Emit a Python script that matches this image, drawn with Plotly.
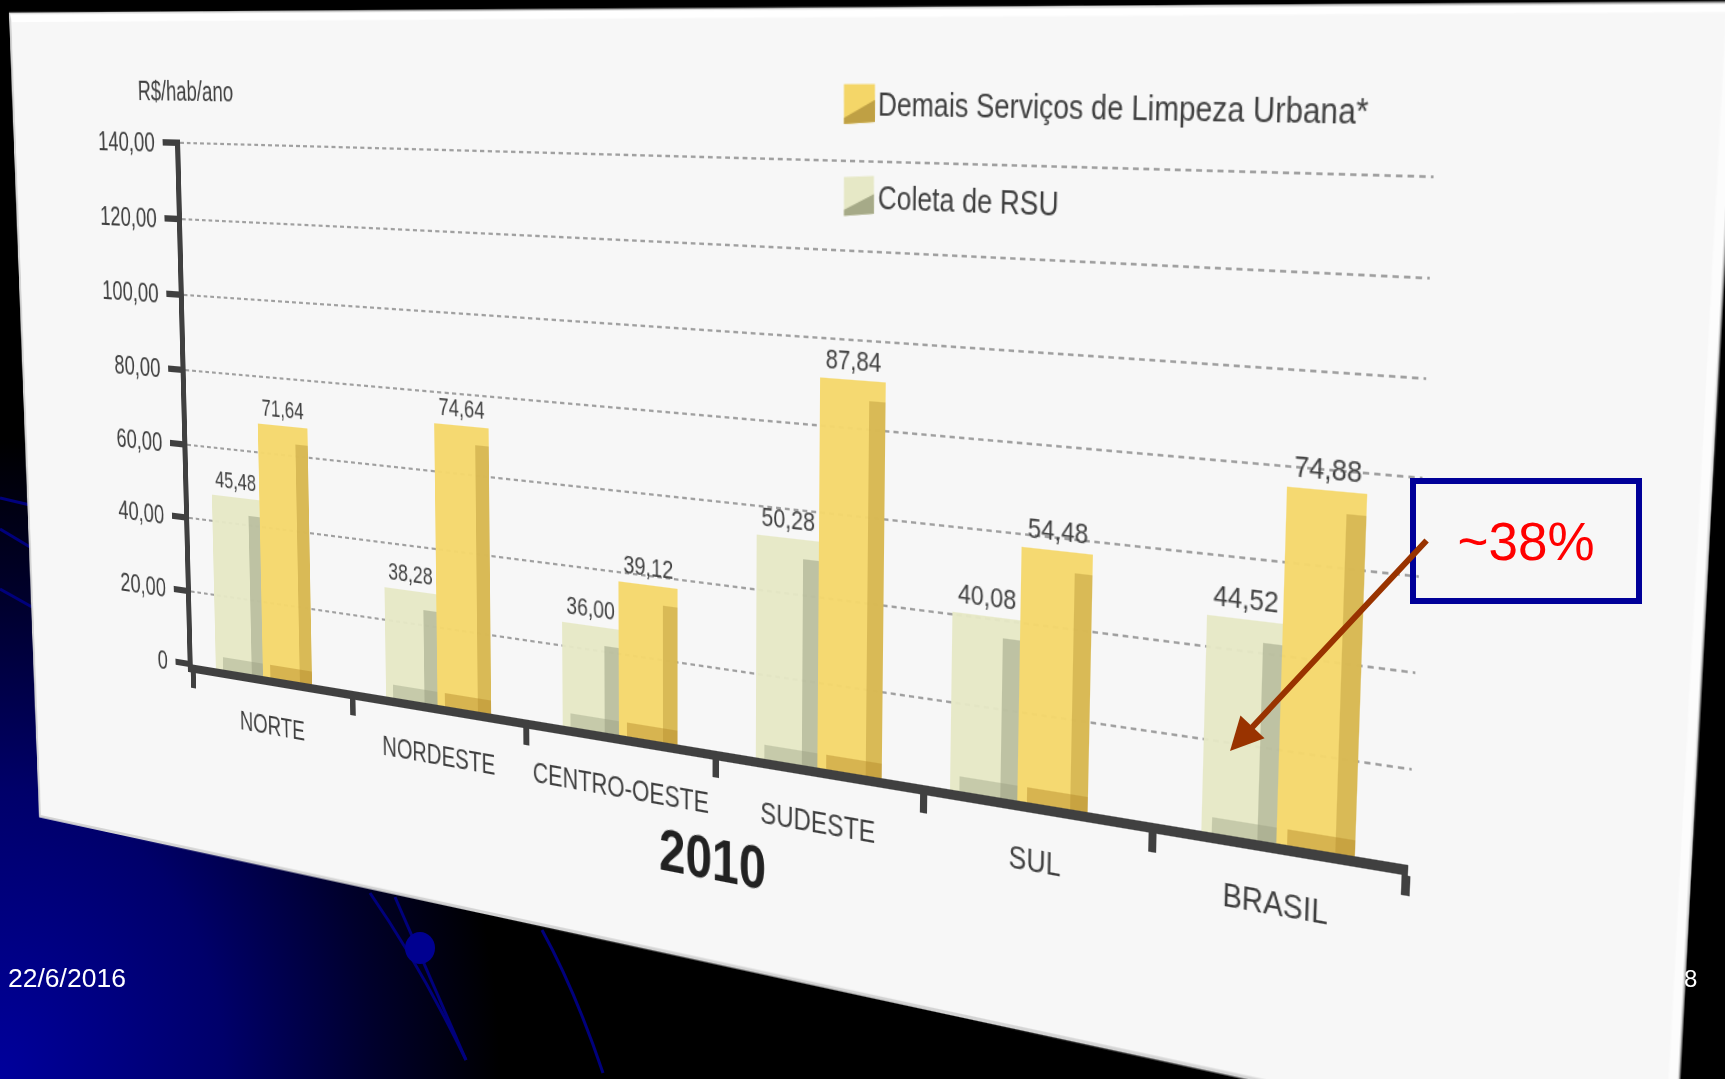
import json
from urllib.parse import quote
import numpy as np
import plotly.graph_objects as go

# ---------- data ----------
CATEGORIES = ["NORTE", "NORDESTE", "CENTRO-OESTE", "SUDESTE", "SUL", "BRASIL"]
# printed values
COLETA_LABELS = ["45,48", "38,28", "36,00", "50,28", "40,08", "44,52"]
DEMAIS_LABELS = ["71,64", "74,64", "39,12", "87,84", "54,48", "74,88"]
# heights as they were drawn on the slide, read against the gridlines
COLETA = [47.2, 28.6, 26.1, 53.1, 40.8, 47.0]
DEMAIS = [67.6, 72.0, 37.8, 91.0, 57.0, 75.8]
Y_TICKS = [0, 20, 40, 60, 80, 100, 120, 140]
Y_LABELS = ["0", "20,00", "40,00", "60,00", "80,00", "100,00", "120,00", "140,00"]
SERIES_NAMES = ["Demais Serviços de Limpeza Urbana*", "Coleta de RSU"]
UNIT = "R$/hab/ano"
YEAR = "2010"
CALLOUT = "~38%"
DATE = "22/6/2016"
PAGE = "8"

# ---------- layout of the tilted slide ----------
W, H_PX = 1725, 1079
GROUP_SHIFT = [-0.05, 0.0, 0.0, 0.0, -0.08, 0.0]
FONT = "Liberation Sans"
INK = "#404040"
ASPECT = 1.35  # text on the slide is taller than it is wide


def homography(src, dst):
    A, b = [], []
    for (x, y), (u, v) in zip(src, dst):
        A.append([x, y, 1, 0, 0, 0, -u * x, -u * y]); b.append(u)
        A.append([0, 0, 0, x, y, 1, -v * x, -v * y]); b.append(v)
    s = np.linalg.solve(np.array(A, float), np.array(b, float))
    return np.array([[s[0], s[1], s[2]], [s[3], s[4], s[5]], [s[6], s[7], 1.0]])


def apply(M, x, y):
    p = M @ np.array([x, y, 1.0])
    return p[0] / p[2], p[1] / p[2]


PANEL = [(10, 14), (1737, 4), (1673, 1170), (40, 816)]
PLOT = [(180.4, 139.3), (1433.5, 172.1), (1408, 865), (193.0, 664.5)]

H_panel = homography([(0, 0), (W, 0), (W, H_PX), (0, H_PX)], PANEL)
inv_panel = np.linalg.inv(H_panel)
q = [apply(inv_panel, *p) for p in PLOT]
left = (q[0][0] + q[3][0]) / 2
right = (q[1][0] + q[2][0]) / 2
top = (q[0][1] + q[1][1]) / 2
bottom = (q[2][1] + q[3][1]) / 2
mid = (top + bottom) / 2
half = (bottom - top) / 2 / ASPECT
top, bottom = mid - half, mid + half
H = homography([(left, top), (right, top), (right, bottom), (left, bottom)], PLOT)
Hi = np.linalg.inv(H)


def S(x, y):
    """page pixel -> pixel of the untilted figure"""
    return apply(Hi, x, y)


def paper_path(points):
    out = []
    for i, (x, y) in enumerate(points):
        sx, sy = S(x, y)
        out.append(("M" if i == 0 else "L") + f"{sx / W:.5f},{1 - sy / H_PX:.5f}")
    return " ".join(out) + " Z"


fig = go.Figure()


def add_series(values, labels, start, width, face, shade, foot):
    off_main = [g + start for g in GROUP_SHIFT]
    fig.add_bar(x=CATEGORIES, y=values, offset=off_main, width=width, marker=dict(color=face, line_width=0),
                text=labels, textposition="outside", cliponaxis=False,
                textfont=dict(family=FONT, size=22, color=INK), showlegend=False, name="")
    off_shade = [g + start + width * 0.76 for g in GROUP_SHIFT]
    fig.add_bar(x=CATEGORIES, y=[v - 4.5 for v in values], offset=off_shade, width=width * 0.24,
                marker=dict(color=shade, line_width=0), showlegend=False, hoverinfo="skip")
    off_foot = [g + start + width * 0.15 for g in GROUP_SHIFT]
    fig.add_bar(x=CATEGORIES, y=[3.5] * len(values), offset=off_foot, width=width * 0.85,
                marker=dict(color=foot, line_width=0), showlegend=False, hoverinfo="skip")


add_series(COLETA, COLETA_LABELS, -0.30, 0.30, "rgba(230,232,198,0.96)", "rgba(150,155,125,0.5)", "rgba(150,155,125,0.4)")
add_series(DEMAIS, DEMAIS_LABELS, 0.0, 0.305, "rgba(245,216,108,0.97)", "rgba(190,155,60,0.5)", "rgba(180,135,40,0.45)")

# free text of the slide, placed where it sits on the page
TEXT_ITEMS = [
    (UNIT, 185, 94, 25, False, "middle center"),
    (SERIES_NAMES[0], 878, 107, 25.3, False, "middle right"),
    (SERIES_NAMES[1], 878, 201, 25.3, False, "middle right"),
    (YEAR, 712, 864, 52, True, "middle center"),
]
for txt, px, py, size, bold, pos in TEXT_ITEMS:
    sx, sy = S(px, py)
    fig.add_scatter(x=[sx], y=[sy], xaxis="x2", yaxis="y2", mode="text", text=[f"<b>{txt}</b>" if bold else txt],
                    textposition=pos, cliponaxis=False, showlegend=False, hoverinfo="skip",
                    textfont=dict(family=FONT, size=size, color="#222222" if bold else INK))

shapes = [
    dict(type="path", xref="paper", yref="paper", layer="below", path=paper_path(PANEL),
         fillcolor="#f7f7f7", line=dict(color="#d4d4d4", width=3)),
    dict(type="path", xref="paper", yref="paper", layer="below",
         path=paper_path([PANEL[0], PANEL[1], (1730, 12), (12, 22)]), fillcolor="#ffffff", line_width=0),
    dict(type="path", xref="paper", yref="paper", layer="below",
         path=paper_path([PANEL[1], PANEL[2], (1664, 1170), (1726, 18)]), fillcolor="#fcfcfc", line_width=0),
    # legend swatches
    dict(type="path", xref="paper", yref="paper", layer="below",
         path=paper_path([(844, 84), (875, 84), (875, 122), (844, 124)]), fillcolor="#f4d668", line_width=0),
    dict(type="path", xref="paper", yref="paper", layer="below",
         path=paper_path([(875, 100), (875, 122), (844, 124), (844, 118)]), fillcolor="#bfa044", line_width=0),
    dict(type="path", xref="paper", yref="paper", layer="below",
         path=paper_path([(844, 177), (874, 176), (874, 214), (844, 216)]), fillcolor="#e6e8c6", line_width=0),
    dict(type="path", xref="paper", yref="paper", layer="below",
         path=paper_path([(874, 194), (874, 214), (844, 216), (844, 210)]), fillcolor="#a6aa88", line_width=0),
]

annotations = [
    dict(text=CALLOUT, xref="paper", yref="paper", x=1410 / W, y=1 - 478 / H_PX, xanchor="left", yanchor="top",
         width=220, height=114, borderwidth=6, bordercolor="#000099", borderpad=0, showarrow=False, align="center",
         valign="middle", font=dict(family=FONT, size=53, color="#ff0000")),
    dict(text="", xref="paper", yref="paper", x=1230 / W, y=1 - 751 / H_PX, axref="pixel", ayref="pixel",
         ax=198, ay=-212, showarrow=True, arrowhead=2, arrowsize=1.1, arrowwidth=6, arrowcolor="#993300"),
    dict(text=DATE, xref="paper", yref="paper", x=6 / W, y=1 - 978 / H_PX, xanchor="left", yanchor="middle",
         showarrow=False, font=dict(family=FONT, size=26.5, color="#ffffff")),
    dict(text=PAGE, xref="paper", yref="paper", x=1690 / W, y=1 - 978 / H_PX, xanchor="center", yanchor="middle",
         showarrow=False, font=dict(family=FONT, size=24, color="#ffffff")),
]

fig.update_layout(
    template="none",
    width=W, height=H_PX, margin=dict(l=0, r=0, t=0, b=0, pad=0), autosize=False,
    paper_bgcolor="rgba(0,0,0,0)", plot_bgcolor="rgba(0,0,0,0)", barmode="overlay", bargap=0,
    showlegend=False, shapes=shapes, annotations=annotations, font=dict(family=FONT, color=INK),
    xaxis=dict(domain=[left / W, right / W], type="category", categoryorder="array", categoryarray=CATEGORIES,
               range=[-0.5, 5.505], tickson="boundaries", ticks="outside", ticklen=15, tickwidth=7, tickcolor=INK,
               showline=True, linewidth=7.5, linecolor=INK, showgrid=False, zeroline=False, automargin=False,
               tickfont=dict(family=FONT, size=25, color=INK), ticklabelstandoff=17, tickangle=0, anchor="y"),
    yaxis=dict(domain=[1 - bottom / H_PX, 1 - top / H_PX], range=[0, 141], tickvals=Y_TICKS, ticktext=Y_LABELS,
               ticks="outside", ticklen=17, tickwidth=5.5, tickcolor=INK, showline=True, linewidth=7, linecolor=INK,
               showgrid=True, gridcolor="#a0a0a0", griddash="5px,4px", gridwidth=2.2, zeroline=False, automargin=False,
               tickfont=dict(family=FONT, size=26, color=INK), ticklabelstandoff=6, anchor="x"),
    xaxis2=dict(domain=[0, 1], range=[0, W], visible=False, anchor="y2", fixedrange=True, automargin=False),
    yaxis2=dict(domain=[0, 1], range=[H_PX, 0], visible=False, anchor="x2", fixedrange=True, automargin=False),
)

# the slide photo's background: blue glow and thin arcs
ARCS = (
    "<svg xmlns='http://www.w3.org/2000/svg' width='1725' height='1079'>"
    "<g fill='none' stroke='#00007c' stroke-width='3'>"
    "<path d='M0 498 L30 505'/><path d='M0 529 L30 547'/><path d='M0 589 L32 607'/>"
    "<path d='M370 893 Q420 965 466 1060'/><path d='M395 897 Q425 965 466 1060'/>"
    "<path d='M542 930 Q575 990 603 1073'/></g>"
    "<ellipse cx='420' cy='948' rx='15' ry='16' fill='#000090'/></svg>"
)
BACKGROUND = ("url(\"data:image/svg+xml," + quote(ARCS) + "\") no-repeat 0 0, "
              "radial-gradient(ellipse 500px 640px at 0px 1079px, #00009c 0%, #00006a 45%, #00002c 75%, #000 100%)")

matrix = [H[0, 0], H[1, 0], 0, H[2, 0], H[0, 1], H[1, 1], 0, H[2, 1], 0, 0, 1, 0, H[0, 2], H[1, 2], 0, H[2, 2]]
POST = (
    "var gd=document.getElementById('{plot_id}');"
    "document.documentElement.style.overflow='hidden';"
    "document.documentElement.style.background='#000';"
    "document.body.style.margin='0';"
    "document.body.style.background=" + json.dumps(BACKGROUND) + "+',#000';"
    "var svg=gd.querySelectorAll('.main-svg')[0];"
    "svg.style.overflow='visible';svg.style.transformOrigin='0 0';"
    "svg.style.filter='blur(0.6px)';"
    "svg.style.transform='matrix3d(" + ",".join(f"{v:.10f}" for v in matrix) + ")';"
)
fig.write_html("out.html", post_script=POST, config={"displayModeBar": False})
